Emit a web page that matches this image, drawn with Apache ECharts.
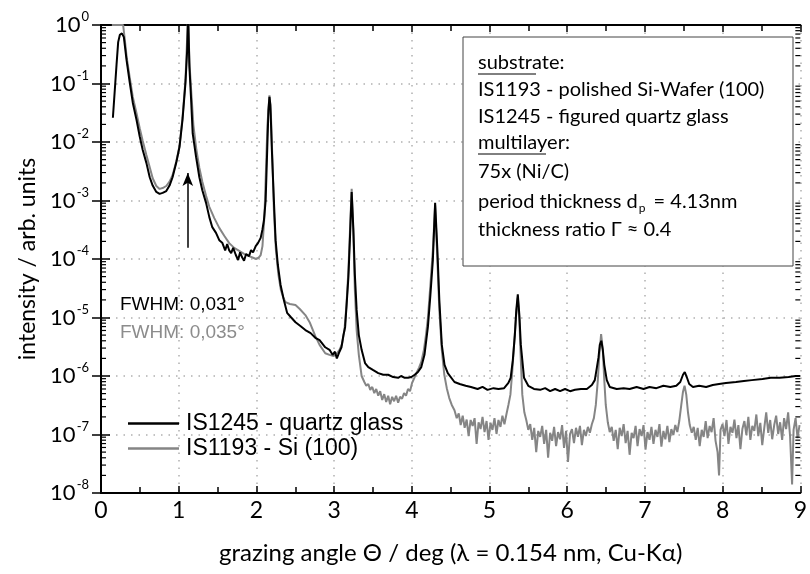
<!DOCTYPE html>
<html>
<head>
<meta charset="utf-8">
<script src="https://cdn.jsdelivr.net/npm/echarts@6/dist/echarts.min.js"></script>
<style>
  html, body { margin: 0; padding: 0; background: #fff; }
  #chart { width: 810px; height: 574px; }
</style>
</head>
<body>
<div id="chart"></div>
<script>
// 掠射角 (deg) 与强度
const quartzGlass = [
  [0.153, 2.6e-2], [0.200, 0.21], [0.221, 0.51], [0.243, 0.68], [0.269, 0.72], [0.294, 0.62],
  [0.329, 0.25], [0.371, 0.102], [0.409, 0.047], [0.457, 0.024], [0.499, 0.0123], [0.537, 7.3e-3],
  [0.584, 4.4e-3], [0.627, 2.5e-3], [0.665, 1.8e-3], [0.712, 1.4e-3], [0.754, 1.3e-3], [0.793, 1.35e-3],
  [0.840, 1.45e-3], [0.882, 1.8e-3], [0.921, 2.5e-3], [0.968, 4.4e-3], [1.010, 8.2e-3], [1.049, 0.024],
  [1.087, 0.102], [1.109, 0.37], [1.121, 1.5], [1.138, 0.19], [1.160, 0.052], [1.180, 0.014],
  [1.224, 5.5e-3], [1.266, 2.5e-3], [1.304, 1.5e-3], [1.352, 9.1e-4], [1.394, 5.2e-4], [1.432, 3.5e-4],
  [1.480, 2.8e-4], [1.522, 2.1e-4], [1.560, 1.9e-4], [1.598, 1.4e-4], [1.624, 1.8e-4], [1.650, 1.4e-4],
  [1.675, 1.26e-4], [1.701, 1.55e-4], [1.735, 1.17e-4], [1.765, 9.6e-5], [1.790, 1.3e-4], [1.816, 1.07e-4],
  [1.841, 9.3e-5], [1.867, 1.22e-4], [1.905, 1.12e-4], [1.931, 1.42e-4], [1.957, 1.3e-4], [1.991, 1.66e-4],
  [2.020, 1.87e-4], [2.055, 2.3e-4], [2.078, 3.2e-4], [2.097, 4.6e-4], [2.119, 1.0e-3], [2.139, 7.3e-3],
  [2.155, 0.035], [2.168, 0.059], [2.180, 0.043], [2.199, 7.3e-3], [2.225, 1.0e-3], [2.247, 2.1e-4],
  [2.276, 7.9e-5], [2.311, 3.6e-5], [2.353, 2.0e-5], [2.395, 1.2e-5], [2.442, 1.02e-5], [2.503, 8.3e-6],
  [2.570, 7.1e-6], [2.630, 6.1e-6], [2.698, 5.4e-6], [2.758, 4.5e-6], [2.813, 4.1e-6], [2.886, 3.1e-6],
  [2.941, 2.8e-6], [2.980, 2.3e-6], [3.011, 2.6e-6], [3.035, 2.0e-6], [3.069, 2.6e-6], [3.095, 3.1e-6],
  [3.120, 5.0e-6], [3.142, 6.9e-6], [3.165, 2.0e-5], [3.184, 4.9e-5], [3.203, 2.1e-4], [3.226, 1.4e-3],
  [3.248, 3.2e-4], [3.267, 5.4e-5], [3.290, 1.35e-5], [3.318, 5.0e-6], [3.354, 2.8e-6], [3.398, 1.66e-6],
  [3.440, 1.42e-6], [3.504, 1.26e-6], [3.568, 1.12e-6], [3.632, 1.05e-6], [3.696, 1.05e-6], [3.760, 9.6e-7],
  [3.824, 9.3e-7], [3.862, 1.0e-6], [3.909, 9.3e-7], [3.951, 9.3e-7], [3.994, 9.6e-7], [4.037, 1.05e-6],
  [4.079, 1.17e-6], [4.122, 1.42e-6], [4.163, 2.3e-6], [4.207, 6.9e-6], [4.239, 2.4e-5], [4.271, 9.6e-5],
  [4.300, 9.1e-4], [4.329, 1.42e-4], [4.354, 2.0e-5], [4.386, 3.4e-6], [4.421, 1.55e-6], [4.463, 1.12e-6],
  [4.549, 7.9e-7], [4.616, 7.3e-7], [4.693, 6.8e-7], [4.761, 6.5e-7], [4.847, 6.0e-7], [4.910, 6.5e-7],
  [4.974, 5.8e-7], [5.051, 6.2e-7], [5.115, 6.0e-7], [5.188, 6.2e-7], [5.243, 7.6e-7], [5.272, 9.3e-7],
  [5.300, 1.87e-6], [5.326, 5.0e-6], [5.345, 1.35e-5], [5.364, 2.5e-5], [5.384, 1.1e-5], [5.403, 3.4e-6],
  [5.444, 9.3e-7], [5.499, 6.8e-7], [5.572, 6.0e-7], [5.652, 5.8e-7], [5.716, 6.2e-7], [5.780, 5.5e-7],
  [5.844, 6.0e-7], [5.908, 5.5e-7], [5.972, 6.0e-7], [6.036, 5.5e-7], [6.100, 5.8e-7], [6.176, 6.0e-7],
  [6.253, 6.0e-7], [6.317, 7.0e-7], [6.355, 8.5e-7], [6.381, 1.38e-6], [6.403, 2.1e-6], [6.419, 3.4e-6],
  [6.439, 4.0e-6], [6.458, 2.8e-6], [6.477, 1.55e-6], [6.509, 8.5e-7], [6.547, 6.5e-7], [6.637, 6.0e-7],
  [6.726, 6.2e-7], [6.803, 6.0e-7], [6.893, 6.5e-7], [6.982, 6.0e-7], [7.059, 6.5e-7], [7.148, 6.2e-7],
  [7.238, 6.8e-7], [7.327, 6.5e-7], [7.404, 6.8e-7], [7.455, 7.9e-7], [7.490, 1.05e-6], [7.513, 1.17e-6],
  [7.538, 9.6e-7], [7.570, 7.3e-7], [7.618, 6.5e-7], [7.698, 6.8e-7], [7.788, 6.5e-7], [7.873, 7.0e-7],
  [7.954, 7.3e-7], [8.043, 7.6e-7], [8.171, 7.9e-7], [8.274, 8.2e-7], [8.376, 8.5e-7], [8.513, 8.9e-7],
  [8.619, 9.3e-7], [8.734, 9.3e-7], [8.849, 9.6e-7], [8.939, 1.0e-6], [9.000, 1.0e-6]
];

const siWafer = [
  [0.140, 1.0], [0.285, 1.0], [0.307, 0.55], [0.332, 0.27], [0.371, 0.124], [0.409, 0.059],
  [0.457, 0.031], [0.499, 0.017], [0.537, 0.0104], [0.584, 6.0e-3], [0.627, 3.7e-3], [0.665, 2.4e-3],
  [0.712, 1.77e-3], [0.754, 1.58e-3], [0.793, 1.63e-3], [0.840, 1.77e-3], [0.882, 2.1e-3], [0.921, 2.7e-3],
  [0.968, 4.6e-3], [1.010, 8.5e-3], [1.049, 0.026], [1.087, 0.115], [1.121, 1.5], [1.138, 0.23],
  [1.164, 0.064], [1.189, 0.0195], [1.228, 7.3e-3], [1.266, 3.6e-3], [1.304, 2.1e-3], [1.352, 1.2e-3],
  [1.394, 7.8e-4], [1.458, 5.0e-4], [1.522, 3.4e-4], [1.586, 2.5e-4], [1.650, 1.87e-4], [1.714, 1.55e-4],
  [1.778, 1.38e-4], [1.841, 1.22e-4], [1.905, 1.12e-4], [1.957, 1.05e-4], [1.995, 1.0e-4], [2.027, 1.05e-4],
  [2.055, 1.17e-4], [2.078, 1.66e-4], [2.104, 5.6e-4], [2.123, 3.3e-3], [2.142, 0.0195], [2.168, 0.063],
  [2.187, 0.029], [2.206, 4.9e-3], [2.225, 6.9e-4], [2.251, 1.42e-4], [2.283, 5.4e-5], [2.315, 2.95e-5],
  [2.347, 2.15e-5], [2.375, 1.83e-5], [2.430, 1.7e-5], [2.503, 1.63e-5], [2.558, 1.4e-5], [2.630, 1.1e-5],
  [2.685, 8.3e-6], [2.758, 4.8e-6], [2.813, 3.4e-6], [2.886, 2.45e-6], [2.941, 2.3e-6], [2.992, 2.2e-6],
  [3.031, 2.4e-6], [3.069, 2.8e-6], [3.101, 3.5e-6], [3.133, 6.1e-6], [3.159, 1.63e-5], [3.184, 6.5e-5],
  [3.207, 3.8e-4], [3.226, 1.58e-3], [3.248, 2.6e-4], [3.267, 2.95e-5], [3.290, 6.1e-6], [3.318, 2.3e-6],
  [3.354, 1.0e-6], [3.389, 7.9e-7], [3.414, 6.8e-7], [3.440, 7.3e-7], [3.465, 5.8e-7], [3.491, 6.5e-7],
  [3.517, 5.1e-7], [3.542, 6.0e-7], [3.568, 4.6e-7], [3.593, 5.5e-7], [3.619, 3.9e-7], [3.645, 4.9e-7],
  [3.670, 3.6e-7], [3.696, 4.6e-7], [3.721, 3.3e-7], [3.747, 4.4e-7], [3.772, 3.7e-7], [3.798, 4.6e-7],
  [3.824, 3.5e-7], [3.849, 4.4e-7], [3.875, 4.1e-7], [3.900, 5.1e-7], [3.926, 4.6e-7], [3.951, 6.0e-7],
  [3.977, 5.5e-7], [4.003, 7.6e-7], [4.037, 9.6e-7], [4.066, 1.17e-6], [4.092, 1.38e-6], [4.122, 1.74e-6],
  [4.156, 2.8e-6], [4.182, 5.0e-6], [4.207, 9.8e-6], [4.239, 3.6e-5], [4.271, 1.42e-4], [4.300, 8.3e-4],
  [4.329, 9.6e-5], [4.354, 1.35e-5], [4.386, 2.8e-6], [4.418, 1.05e-6], [4.450, 6.2e-7], [4.482, 4.2e-7],
  [4.514, 3.2e-7], [4.549, 2.6e-7], [4.578, 1.9e-7], [4.604, 2.3e-7], [4.629, 1.45e-7], [4.655, 2.1e-7],
  [4.680, 1.3e-7], [4.706, 1.8e-7], [4.731, 9.4e-8], [4.757, 1.77e-7], [4.783, 1.4e-7], [4.808, 1.9e-7],
  [4.834, 6.9e-8], [4.859, 1.62e-7], [4.885, 1.24e-7], [4.910, 2.0e-7], [4.936, 1.1e-7], [4.962, 1.7e-7],
  [4.987, 8.1e-8], [5.013, 1.58e-7], [5.038, 1.2e-7], [5.064, 1.9e-7], [5.090, 1.02e-7], [5.115, 1.77e-7],
  [5.141, 1.35e-7], [5.166, 2.1e-7], [5.192, 1.5e-7], [5.217, 2.2e-7], [5.243, 3.2e-7], [5.269, 4.8e-7],
  [5.294, 1.26e-6], [5.320, 4.1e-6], [5.343, 1.1e-5], [5.364, 2.2e-5], [5.384, 9.1e-6], [5.403, 1.87e-6],
  [5.422, 4.8e-7], [5.448, 2.4e-7], [5.473, 1.77e-7], [5.499, 1.2e-7], [5.524, 1.5e-7], [5.550, 8.1e-8],
  [5.575, 1.3e-7], [5.601, 5.0e-8], [5.627, 1.15e-7], [5.652, 9.1e-8], [5.678, 1.4e-7], [5.703, 6.9e-8],
  [5.729, 1.2e-7], [5.754, 4.0e-8], [5.780, 1.07e-7], [5.806, 7.8e-8], [5.831, 1.35e-7], [5.857, 6.3e-8],
  [5.882, 1.1e-7], [5.908, 8.3e-8], [5.934, 1.45e-7], [5.959, 5.9e-8], [5.985, 1.15e-7], [6.010, 3.4e-8],
  [6.036, 1.02e-7], [6.061, 1.24e-7], [6.087, 7.1e-8], [6.113, 1.3e-7], [6.138, 9.1e-8], [6.164, 1.4e-7],
  [6.189, 6.6e-8], [6.215, 1.2e-7], [6.240, 9.4e-8], [6.266, 1.35e-7], [6.292, 1.07e-7], [6.317, 1.5e-7],
  [6.343, 1.9e-7], [6.368, 3.2e-7], [6.394, 8.5e-7], [6.413, 2.3e-6], [6.436, 5.2e-6], [6.458, 2.8e-6],
  [6.477, 8.5e-7], [6.496, 3.2e-7], [6.522, 1.62e-7], [6.547, 1.1e-7], [6.573, 1.35e-7], [6.598, 7.8e-8],
  [6.624, 1.2e-7], [6.650, 5.6e-8], [6.675, 1.3e-7], [6.701, 9.4e-8], [6.726, 1.5e-7], [6.752, 7.1e-8],
  [6.777, 1.15e-7], [6.803, 4.5e-8], [6.829, 1.07e-7], [6.854, 8.7e-8], [6.880, 1.4e-7], [6.905, 6.3e-8],
  [6.931, 1.24e-7], [6.957, 9.4e-8], [6.982, 1.45e-7], [7.008, 5.5e-8], [7.033, 1.1e-7], [7.059, 8.1e-8],
  [7.084, 1.35e-7], [7.110, 6.9e-8], [7.136, 1.2e-7], [7.161, 9.1e-8], [7.187, 1.5e-7], [7.212, 6.2e-8],
  [7.238, 1.15e-7], [7.263, 8.3e-8], [7.289, 1.4e-7], [7.315, 7.4e-8], [7.340, 1.24e-7], [7.366, 9.8e-8],
  [7.391, 1.45e-7], [7.417, 1.1e-7], [7.442, 1.7e-7], [7.468, 3.2e-7], [7.490, 5.4e-7], [7.510, 6.8e-7],
  [7.532, 4.8e-7], [7.554, 2.4e-7], [7.577, 1.45e-7], [7.603, 1.07e-7], [7.628, 1.35e-7], [7.654, 8.1e-8],
  [7.679, 1.3e-7], [7.705, 6.3e-8], [7.731, 1.2e-7], [7.756, 9.1e-8], [7.782, 1.7e-7], [7.807, 8.7e-8],
  [7.833, 1.4e-7], [7.858, 1.1e-7], [7.884, 1.9e-7], [7.909, 7.8e-8], [7.935, 5.0e-8], [7.954, 2.0e-8],
  [7.973, 1.2e-7], [7.999, 1.5e-7], [8.024, 9.4e-8], [8.050, 1.77e-7], [8.075, 6.9e-8], [8.101, 1.35e-7],
  [8.127, 1.07e-7], [8.152, 1.8e-7], [8.178, 8.7e-8], [8.203, 1.45e-7], [8.229, 5.6e-8], [8.254, 1.24e-7],
  [8.280, 1.7e-7], [8.306, 9.8e-8], [8.331, 2.0e-7], [8.357, 8.1e-8], [8.382, 1.4e-7], [8.408, 1.15e-7],
  [8.434, 2.2e-7], [8.459, 9.4e-8], [8.485, 1.58e-7], [8.510, 6.6e-8], [8.536, 1.3e-7], [8.561, 2.4e-7],
  [8.587, 1.07e-7], [8.612, 1.77e-7], [8.638, 8.3e-8], [8.664, 1.45e-7], [8.689, 2.1e-7], [8.715, 1.02e-7],
  [8.740, 1.62e-7], [8.766, 8.1e-8], [8.791, 1.9e-7], [8.817, 1.24e-7], [8.843, 2.4e-7], [8.868, 9.4e-8],
  [8.894, 1.4e-8], [8.913, 1.2e-7], [8.939, 1.9e-7], [8.964, 8.7e-8], [8.990, 1.45e-7]
];

// 图例名称
const seriesNames = ['IS1245 - quartz glass', 'IS1193 - Si (100)'];
// 纵轴刻度标签 (10 的指数)
const yTickExponents = ['-8', '-7', '-6', '-5', '-4', '-3', '-2', '-1', '0'];
// 箭头 (标记第一个布拉格峰)
const arrowX = 1.117;
const arrowFrom = 1.55e-4;
const arrowTo = 2.95e-3;

// 对数轴次刻度 2..9 × 10^n
const minorTicks = [];
for (let e = -8; e < 0; e++) {
  for (let k = 2; k <= 9; k++) minorTicks.push([0, k * Math.pow(10, e)]);
}

const boxFont = 'Lato, "Open Sans", sans-serif';
const labelFont = 'Lato, "Open Sans", sans-serif';
const legendFont = '"Liberation Sans", Arial, sans-serif';

const chart = echarts.init(document.getElementById('chart'));

const axisLineStyle = { color: '#000', width: 2 };
const tickStyle = { color: '#000', width: 1.5 };

const option = {
  animation: false,
  backgroundColor: '#fff',
  grid: { left: 101, right: 5, top: 25, bottom: 81, containLabel: false },
  legend: {
    data: seriesNames,
    orient: 'vertical',
    left: 123,
    top: 407,
    icon: 'rect',
    itemWidth: 51,
    itemHeight: 2.5,
    itemGap: 2,
    textStyle: { fontSize: 23, color: '#000', fontFamily: legendFont, padding: [0, 0, 0, 2] },
    selectedMode: false
  },
  xAxis: [
    {
      type: 'value', min: 0, max: 9, interval: 1, position: 'bottom',
      axisLine: { lineStyle: axisLineStyle },
      axisTick: { inside: true, length: 7, lineStyle: tickStyle },
      minorTick: { show: true, splitNumber: 2, length: 6, lineStyle: tickStyle },
      splitLine: { show: true, lineStyle: { color: '#b0b0b0', width: 1.5, type: [1.5, 6] } },
      axisLabel: { fontSize: 23, color: '#000', margin: 6, fontFamily: labelFont },
      name: 'grazing angle Θ / deg (λ = 0.154 nm, Cu-Kα)',
      nameLocation: 'middle',
      nameGap: 48,
      nameTextStyle: { fontSize: 24, color: '#000', fontFamily: labelFont }
    },
    {
      type: 'value', min: 0, max: 9, interval: 1, position: 'top',
      axisLine: { lineStyle: axisLineStyle },
      axisTick: { inside: true, length: 7, lineStyle: tickStyle },
      minorTick: { show: true, splitNumber: 2, length: 6, lineStyle: tickStyle },
      splitLine: { show: false },
      axisLabel: { show: false }
    }
  ],
  yAxis: [
    {
      type: 'log', logBase: 10, min: 1e-8, max: 1, splitNumber: 8, position: 'left',
      axisLine: { lineStyle: axisLineStyle },
      axisTick: { inside: true, length: 9, lineStyle: tickStyle },
      splitLine: { show: true, lineStyle: { color: '#b0b0b0', width: 1.5, type: [1.5, 6] } },
      axisLabel: {
        margin: 12,
        formatter: function (v) {
          const e = yTickExponents[Math.round(Math.log10(v)) + 8];
          return '{b|10}{e|' + e + '}';
        },
        rich: {
          b: { fontSize: 22, color: '#000', fontFamily: labelFont },
          e: { fontSize: 13, color: '#000', fontFamily: labelFont, padding: [0, 0, 16, 1] }
        }
      },
      name: 'intensity / arb. units',
      nameLocation: 'middle',
      nameGap: 60,
      nameTextStyle: { fontSize: 23, color: '#000', fontFamily: labelFont }
    },
    {
      type: 'log', logBase: 10, min: 1e-8, max: 1, splitNumber: 8, position: 'right',
      axisLine: { lineStyle: axisLineStyle },
      axisTick: { inside: true, length: 9, lineStyle: tickStyle },
      splitLine: { show: false },
      axisLabel: { show: false }
    }
  ],
  series: [
    {
      name: seriesNames[1],
      type: 'line',
      data: siWafer,
      showSymbol: false,
      symbol: 'none',
      lineStyle: { color: '#858585', width: 2 },
      itemStyle: { color: '#858585' },
      z: 2
    },
    {
      name: seriesNames[0],
      type: 'line',
      data: quartzGlass,
      showSymbol: false,
      symbol: 'none',
      lineStyle: { color: '#000', width: 2 },
      itemStyle: { color: '#000' },
      z: 3,
      markLine: {
        silent: true,
        symbol: ['none', 'arrow'],
        symbolSize: [8, 13],
        label: { show: false },
        lineStyle: { color: '#000', width: 1.5, type: 'solid' },
        data: [[{ coord: [arrowX, arrowFrom] }, { coord: [arrowX, arrowTo] }]]
      }
    },
    {
      // 次刻度 (左右两侧)
      type: 'custom',
      silent: true,
      data: minorTicks,
      z: 5,
      renderItem: function (params, api) {
        const v = api.value(1);
        const l = api.coord([0, v]);
        const r = api.coord([9, v]);
        return {
          type: 'group',
          children: [
            { type: 'line', shape: { x1: l[0], y1: l[1], x2: l[0] + 5, y2: l[1] }, style: { stroke: '#000', lineWidth: 1.2 } },
            { type: 'line', shape: { x1: r[0] - 5, y1: r[1], x2: r[0], y2: r[1] }, style: { stroke: '#000', lineWidth: 1.2 } }
          ]
        };
      }
    }
  ],
  graphic: [
    { type: 'rect', z: 100, shape: { x: 463, y: 37, width: 330, height: 229 }, style: { fill: '#fff', stroke: '#444', lineWidth: 1 } },
    { type: 'text', z: 101, x: 478, y: 63, style: { text: 'substrate:', fontSize: 20, fontFamily: boxFont, fill: '#000', verticalAlign: 'middle' } },
    { type: 'line', z: 101, shape: { x1: 478, y1: 74, x2: 536, y2: 74 }, style: { stroke: '#000', lineWidth: 1 } },
    { type: 'text', z: 101, x: 478, y: 90, style: { text: 'IS1193 - polished Si-Wafer (100)', fontSize: 20, fontFamily: boxFont, fill: '#000', verticalAlign: 'middle' } },
    { type: 'text', z: 101, x: 478, y: 117, style: { text: 'IS1245 - figured quartz glass', fontSize: 20, fontFamily: boxFont, fill: '#000', verticalAlign: 'middle' } },
    { type: 'text', z: 101, x: 478, y: 143, style: { text: 'multilayer:', fontSize: 20, fontFamily: boxFont, fill: '#000', verticalAlign: 'middle' } },
    { type: 'line', z: 101, shape: { x1: 478, y1: 154, x2: 546, y2: 154 }, style: { stroke: '#000', lineWidth: 1 } },
    { type: 'text', z: 101, x: 478, y: 172, style: { text: '75x (Ni/C)', fontSize: 20, fontFamily: boxFont, fill: '#000', verticalAlign: 'middle' } },
    {
      type: 'text', z: 101, x: 478, y: 202,
      style: {
        text: '{a|period thickness d}{s|p}{a| = 4.13nm}',
        verticalAlign: 'middle',
        rich: {
          a: { fontSize: 20, fontFamily: boxFont, fill: '#000', color: '#000' },
          s: { fontSize: 12, fontFamily: boxFont, fill: '#000', color: '#000', padding: [12, 3, 0, 1] }
        }
      }
    },
    { type: 'text', z: 101, x: 478, y: 230, style: { text: 'thickness ratio Γ ≈ 0.4', fontSize: 20, fontFamily: boxFont, fill: '#000', verticalAlign: 'middle' } },
    { type: 'text', z: 101, x: 120, y: 305, style: { text: 'FWHM: 0,031°', fontSize: 19, fontFamily: legendFont, fill: '#000', verticalAlign: 'middle' } },
    { type: 'text', z: 101, x: 120, y: 333, style: { text: 'FWHM: 0,035°', fontSize: 19, fontFamily: legendFont, fill: '#8c8c8c', verticalAlign: 'middle' } }
  ]
};

chart.setOption(option);
window.addEventListener('resize', () => chart.resize());
</script>
</body>
</html>
